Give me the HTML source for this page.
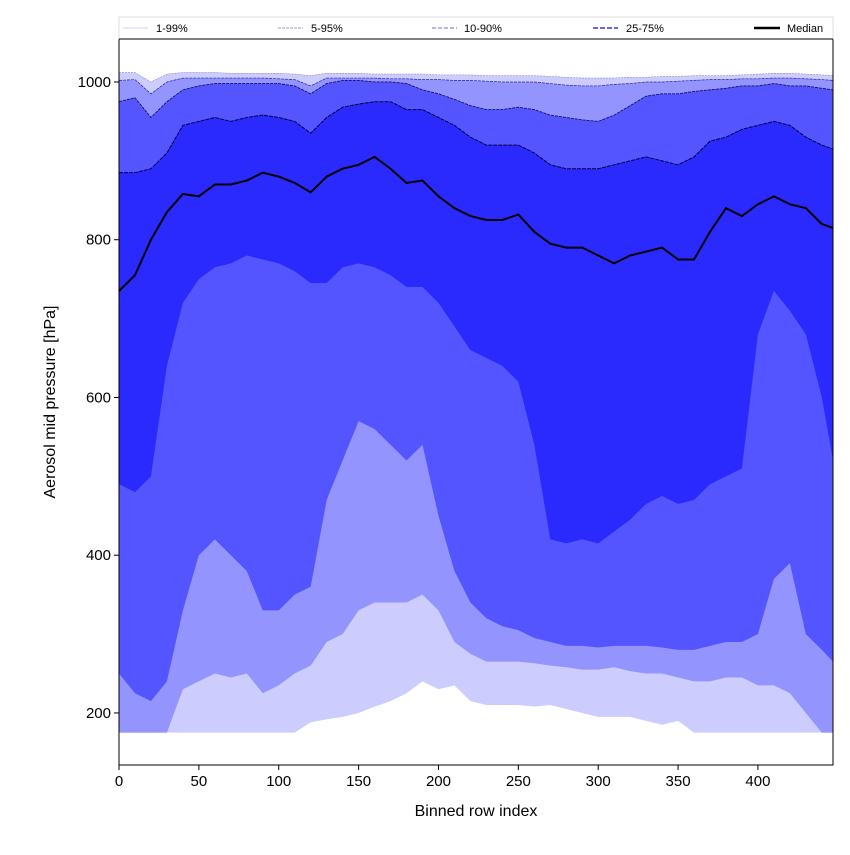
<!DOCTYPE html>
<html><head><meta charset="utf-8"><style>
body{margin:0;background:#fff;font-family:"Liberation Sans","DejaVu Sans",sans-serif}
</style></head><body>
<svg id="c" width="850" height="850" xmlns="http://www.w3.org/2000/svg"></svg>
<script>
const xs=[0,10,20,30,40,50,60,70,80,90,100,110,120,130,140,150,160,170,180,190,200,210,220,230,240,250,260,270,280,290,300,310,320,330,340,350,360,370,380,390,400,410,420,430,440,447];
const p1=[175,175,175,175,175,175,175,175,175,175,175,175,188,192,195,200,208,215,225,240,230,235,215,210,210,210,208,210,205,200,195,195,195,190,185,190,175,175,175,175,175,175,175,175,175,175];
const p5=[175,175,175,175,230,240,250,245,250,225,235,250,260,290,300,330,340,340,340,350,330,290,275,265,265,265,263,260,258,255,255,258,253,250,250,245,240,240,245,245,235,235,225,200,175,175];
const p10=[250,225,215,240,330,400,420,400,380,330,330,350,360,470,520,570,560,540,520,540,450,380,340,320,310,305,295,290,285,285,283,285,285,285,283,280,280,285,290,290,300,370,390,300,280,265];
const p25=[490,480,500,640,720,750,765,770,780,775,770,760,745,745,765,770,765,755,740,740,720,690,660,650,640,620,540,420,415,420,415,430,445,465,475,465,470,490,500,510,680,735,710,680,600,520];
const med=[735,755,800,835,858,855,870,870,875,885,880,872,860,880,890,895,905,890,872,875,855,840,830,825,825,832,810,795,790,790,780,770,780,785,790,775,775,810,840,830,845,855,845,840,820,815];
const p75=[885,885,890,910,945,950,955,950,955,958,955,950,935,955,968,972,975,975,965,965,955,945,930,920,920,920,910,895,890,890,890,895,900,905,900,895,905,925,930,940,945,950,945,930,920,915];
const p90=[975,980,955,975,990,995,998,998,998,998,998,995,985,998,1002,1002,1000,1000,998,990,985,978,970,965,965,968,965,958,955,952,950,958,970,982,985,985,988,990,992,995,995,998,995,995,992,990];
const p95=[1002,1003,985,1000,1005,1005,1005,1005,1005,1005,1004,1003,995,1005,1005,1005,1005,1004,1004,1003,1003,1002,1002,1001,1000,1000,1000,998,996,995,995,997,998,1000,1000,1001,1002,1003,1003,1004,1004,1005,1005,1004,1003,1002];
const p99=[1012,1012,1000,1010,1012,1012,1012,1011,1011,1011,1011,1010,1008,1011,1011,1011,1010,1010,1010,1010,1009,1009,1009,1008,1008,1008,1008,1007,1006,1005,1005,1005,1006,1006,1007,1007,1008,1008,1008,1009,1010,1011,1011,1010,1009,1008];
const xticks=[0,50,100,150,200,250,300,350,400];
const yticks=[200,400,600,800,1000];
const L=119,R=833,T=39,B=765;
const X=v=>L+(v/447)*(R-L);
const Y=v=>B-(v-134)/(1054.5-134)*(B-T);
const svg=document.getElementById('c');const NS='http://www.w3.org/2000/svg';
function mk(t,a,p){const e=document.createElementNS(NS,t);for(const k in a)e.setAttribute(k,a[k]);(p||svg).appendChild(e);return e;}
function band(lo,hi,col,name){let d='M'+xs.map((x,i)=>X(x)+','+Y(hi[i])).join('L');for(let i=xs.length-1;i>=0;i--)d+='L'+X(xs[i])+','+Y(lo[i]);d+='Z';const e=mk('path',{d:d,fill:col});}
function line(a,col,w,name,dash){const e=mk('path',{d:'M'+xs.map((x,i)=>X(x)+','+Y(a[i])).join('L'),fill:'none',stroke:col,'stroke-width':w});if(dash)e.setAttribute('stroke-dasharray',dash);}
band(p1,p99,'#ccccff','band-1-99');
band(p5,p95,'#9494ff','band-5-95');
band(p10,p90,'#5555ff','band-10-90');
band(p25,p75,'#2a2aff','band-25-75');
line(p99,'#8888cc',0.6,'line-99','2,1');
line(p95,'#2222aa',0.7,'line-95','3,1');
line(p90,'#111166',0.9,'line-90','3,1');
line(p75,'#000044',1,'line-75','4,1');
line(med,'#000',2,'median-line');
mk('rect',{x:L,y:T,width:R-L,height:B-T,fill:'none',stroke:'#000','stroke-width':1});
xticks.forEach(v=>{mk('line',{x1:X(v),x2:X(v),y1:B,y2:B+5,stroke:'#000'});const t=mk('text',{x:X(v),y:B+21,'text-anchor':'middle','font-size':15});t.textContent=v;});
yticks.forEach(v=>{mk('line',{x1:L-5,x2:L,y1:Y(v),y2:Y(v),stroke:'#000'});const t=mk('text',{x:L-8,y:Y(v)+5,'text-anchor':'end','font-size':15});t.textContent=v;});
</script>
<svg style="position:absolute;left:0;top:0" width="850" height="850">
<text x="476" y="816" text-anchor="middle" font-size="16">Binned row index</text>
<text transform="translate(55,402) rotate(-90)" text-anchor="middle" font-size="16">Aerosol mid pressure [hPa]</text>
<g>
<rect x="119" y="17" width="714" height="22" fill="#fff" stroke="#ddd"/>
<line x1="119" y1="39" x2="833" y2="39" stroke="#000"/>
<line x1="123" y1="28" x2="148" y2="28" stroke="#ccccff" stroke-width="1"/><text x="156" y="32" font-size="11">1-99%</text>
<line x1="278" y1="28" x2="303" y2="28" stroke="#9999dd" stroke-width="1" stroke-dasharray="3,1"/><text x="311" y="32" font-size="11">5-95%</text>
<line x1="432" y1="28" x2="457" y2="28" stroke="#8888dd" stroke-width="1.3" stroke-dasharray="4,2"/><text x="464" y="32" font-size="11">10-90%</text>
<line x1="593" y1="28" x2="618" y2="28" stroke="#6666ff" stroke-width="2" stroke-dasharray="5,2"/><text x="626" y="32" font-size="11">25-75%</text>
<line x1="754" y1="28" x2="780" y2="28" stroke="#000" stroke-width="2.5"/><text x="787" y="32" font-size="11">Median</text>
</g>
</svg>
</body></html>
